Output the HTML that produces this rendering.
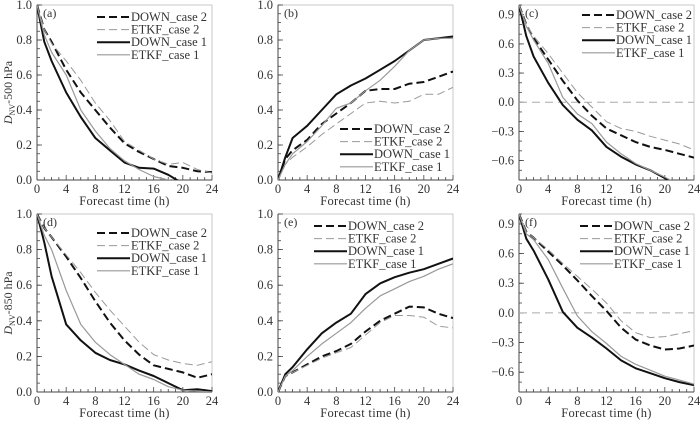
<!DOCTYPE html>
<html><head><meta charset="utf-8"><style>
body{margin:0;background:#fff;}
svg, svg text{font-family:"Liberation Serif","Times New Roman",serif;}
</style></head><body>
<svg id="fig" width="700" height="422" viewBox="0 0 700 422" font-family="Liberation Serif, serif"></svg>
<script>
const hours=[0,1,2,4,6,8,10,12,14,16,18,20,22,24];
const seriesNames=["DOWN_case 2","ETKF_case 2","DOWN_case 1","ETKF_case 1"];
const aDown2=[1,0.86,0.79,0.63,0.50,0.40,0.30,0.21,0.16,0.12,0.08,0.07,0.05,0.045];
const aEtkf2=[1,0.86,0.78,0.68,0.57,0.44,0.34,0.22,0.17,0.12,0.09,0.10,0.06,0.04];
const aDown1=[1,0.79,0.68,0.50,0.36,0.24,0.17,0.10,0.07,0.065,0.03,-0.02,-0.05,-0.08];
const aEtkf1=[1,0.83,0.73,0.60,0.40,0.28,0.18,0.11,0.06,0.02,0.0,-0.02,-0.05,-0.08];
const bDown2=[0,0.12,0.17,0.23,0.32,0.38,0.44,0.51,0.52,0.52,0.55,0.56,0.59,0.62];
const bEtkf2=[0,0.09,0.13,0.19,0.26,0.32,0.38,0.44,0.45,0.44,0.45,0.49,0.49,0.53];
const bDown1=[0,0.13,0.24,0.31,0.40,0.49,0.54,0.58,0.63,0.68,0.74,0.80,0.81,0.82];
const bEtkf1=[0,0.09,0.15,0.22,0.31,0.41,0.44,0.51,0.57,0.65,0.74,0.80,0.81,0.81];
const cDown2=[1,0.80,0.66,0.44,0.22,0.02,-0.14,-0.27,-0.34,-0.41,-0.46,-0.49,-0.53,-0.57];
const cEtkf2=[1,0.80,0.68,0.50,0.30,0.10,-0.05,-0.20,-0.27,-0.30,-0.35,-0.39,-0.43,-0.49];
const cDown1=[1,0.68,0.47,0.20,-0.03,-0.18,-0.29,-0.46,-0.56,-0.64,-0.70,-0.78,-0.85,-0.9];
const cEtkf1=[1,0.78,0.64,0.40,0.05,-0.12,-0.22,-0.41,-0.53,-0.63,-0.70,-0.77,-0.85,-0.9];
const dDown2=[1,0.92,0.87,0.76,0.64,0.51,0.39,0.29,0.21,0.15,0.13,0.11,0.08,0.10];
const dEtkf2=[1,0.92,0.87,0.77,0.67,0.56,0.46,0.37,0.28,0.21,0.18,0.16,0.15,0.17];
const dDown1=[1,0.84,0.65,0.38,0.29,0.22,0.18,0.155,0.12,0.09,0.05,0.01,0.015,0.005];
const dEtkf1=[1,0.88,0.80,0.57,0.38,0.28,0.21,0.155,0.10,0.07,0.03,0.01,0.005,0.0];
const eDown2=[0,0.09,0.11,0.155,0.20,0.23,0.27,0.34,0.40,0.44,0.48,0.475,0.44,0.415];
const eEtkf2=[0,0.09,0.11,0.15,0.19,0.22,0.25,0.32,0.39,0.43,0.43,0.42,0.37,0.36];
const eDown1=[0,0.10,0.14,0.24,0.33,0.39,0.44,0.55,0.61,0.645,0.67,0.69,0.72,0.75];
const eEtkf1=[0,0.09,0.12,0.20,0.27,0.33,0.39,0.47,0.54,0.58,0.62,0.65,0.69,0.72];
const fDown2=[1,0.82,0.76,0.62,0.48,0.33,0.17,0.02,-0.15,-0.27,-0.33,-0.37,-0.36,-0.33];
const fEtkf2=[1,0.82,0.76,0.64,0.50,0.37,0.24,0.10,-0.08,-0.20,-0.25,-0.24,-0.21,-0.18];
const fDown1=[1,0.75,0.63,0.34,0.01,-0.15,-0.25,-0.36,-0.48,-0.56,-0.61,-0.66,-0.70,-0.73];
const fEtkf1=[1,0.80,0.74,0.54,0.25,-0.03,-0.19,-0.31,-0.44,-0.52,-0.58,-0.64,-0.68,-0.72];
const posTicks=[0,0.2,0.4,0.6,0.8,1.0];
const posTickLabels=["0.0","0.2","0.4","0.6","0.8","1.0"];
const symTicks=[-0.6,-0.3,0,0.3,0.6,0.9];
const symTickLabels=["\u22120.6","\u22120.3","0.0","0.3","0.6","0.9"];
const xTicks=[0,4,8,12,16,20,24];
const xTickLabels=["0","4","8","12","16","20","24"];

const NS="http://www.w3.org/2000/svg";
const FONT="Liberation Serif, serif";
const svg=document.getElementById('fig');
function mk(tag,attrs,parent){const e=document.createElementNS(NS,tag);for(const k in attrs)e.setAttribute(k,attrs[k]);if(tag==='text')e.setAttribute('font-family',FONT);(parent||svg).appendChild(e);return e;}
const styles=[{stroke:"#111",w:2,dash:"8,4"},{stroke:"#999",w:1,dash:"8,4"},{stroke:"#111",w:2,dash:""},{stroke:"#999",w:1.2,dash:""}];

const panels=[
 {id:"a",x0:37,x1:212,y0:5,y1:180,ymin:0,ymax:1,sym:false,data:[aDown2,aEtkf2,aDown1,aEtkf1],lx:97,ly:17,ylab:"500"},
 {id:"b",x0:278,x1:453,y0:5,y1:180,ymin:0,ymax:1,sym:false,data:[bDown2,bEtkf2,bDown1,bEtkf1],lx:340,ly:129},
 {id:"c",x0:519,x1:694,y0:5,y1:180,ymin:-0.8,ymax:1,sym:true,data:[cDown2,cEtkf2,cDown1,cEtkf1],lx:582,ly:15},
 {id:"d",x0:37,x1:212,y0:214,y1:392,ymin:0,ymax:1,sym:false,data:[dDown2,dEtkf2,dDown1,dEtkf1],lx:97,ly:233,ylab:"850"},
 {id:"e",x0:278,x1:453,y0:214,y1:392,ymin:0,ymax:1,sym:false,data:[eDown2,eEtkf2,eDown1,eEtkf1],lx:314,ly:226},
 {id:"f",x0:519,x1:694,y0:214,y1:392,ymin:-0.8,ymax:1,sym:true,data:[fDown2,fEtkf2,fDown1,fEtkf1],lx:580,ly:226}
];

panels.forEach(p=>{
  const g=mk('g',{});
  
  
  const X=h=>p.x0+(h/24)*(p.x1-p.x0);
  const Y=v=>p.y1-(v-p.ymin)/(p.ymax-p.ymin)*(p.y1-p.y0);
  const cp=mk('clipPath',{id:'clip-'+p.id},g);
  mk('rect',{x:p.x0,y:p.y0-1,width:p.x1-p.x0,height:p.y1-p.y0+1},cp);
  const frame=mk('rect',{x:p.x0,y:p.y0,width:p.x1-p.x0,height:p.y1-p.y0,fill:"none",stroke:"#bbb","stroke-width":0.8},g);
  
  
  mk('line',{x1:p.x0,y1:p.y0,x2:p.x0,y2:p.y1,stroke:"#444","stroke-width":1},g);
  mk('line',{x1:p.x0,y1:p.y1,x2:p.x1,y2:p.y1,stroke:"#444","stroke-width":1},g);
  for(let h=0;h<=24;h++){const maj=h%4===0;mk('line',{x1:X(h),y1:p.y1,x2:X(h),y2:p.y1-(maj?5:3),stroke:"#444","stroke-width":0.8},g);}
  xTicks.forEach((t,i)=>{const tx=mk('text',{x:X(t),y:p.y1+13,"font-size":12.5,"text-anchor":"middle",fill:"#333"},g);tx.textContent=xTickLabels[i];
    
    });
  const xt=mk('text',{x:(p.x0+p.x1)/2,y:p.y1+25,"font-size":12.5,"text-anchor":"middle",fill:"#333","letter-spacing":"0.3"},g);
  xt.textContent="Forecast time (h)";
  
  
  const ticks=p.sym?symTicks:posTicks, labs=p.sym?symTickLabels:posTickLabels;
  const minor=p.sym?0.1:0.05;
  for(let v=p.ymin;v<=p.ymax+1e-6;v+=minor){mk('line',{x1:p.x0,y1:Y(v),x2:p.x0+3,y2:Y(v),stroke:"#444","stroke-width":0.8},g);}
  ticks.forEach((t,i)=>{mk('line',{x1:p.x0,y1:Y(t),x2:p.x0+5,y2:Y(t),stroke:"#444","stroke-width":0.8},g);
    const tx=mk('text',{x:p.x0-5,y:Y(t)+4,"font-size":12.5,"text-anchor":"end",fill:"#333"},g);tx.textContent=labs[i];
    
    });
  if(p.sym){const z=mk('line',{x1:p.x0,y1:Y(0),x2:p.x1,y2:Y(0),stroke:"#aaa","stroke-width":1,"stroke-dasharray":"8,5"},g);
    
    }
  if(p.ylab){const yt=mk('text',{x:0,y:0,"font-size":12,"text-anchor":"middle",fill:"#333",transform:`translate(12,${(p.y0+p.y1)/2}) rotate(-90)`},g);
    yt.innerHTML='<tspan font-style="italic">D</tspan><tspan font-size="8" dy="3">NV</tspan><tspan dy="-3">-'+p.ylab+' hPa</tspan>';
    
    }
  const pl=mk('text',{x:p.x0+6,y:p.y0+12,"font-size":12,fill:"#333"},g);
  pl.textContent="("+p.id+")";
  
  
  p.data.forEach((vals,si)=>{
    const s=styles[si];
    const d=vals.map((v,i)=>(i?'L':'M')+X(hours[i]).toFixed(1)+','+Y(v).toFixed(1)).join(' ');
    const path=mk('path',{d:d,fill:"none",stroke:s.stroke,"stroke-width":s.w,"stroke-dasharray":s.dash,"clip-path":`url(#clip-${p.id})`,"stroke-linejoin":"round"},g);
    
    
  });
  seriesNames.forEach((n,si)=>{
    const s=styles[si], ly=p.ly+si*12.6;
    const le=mk('g',{},g);
    
    
    mk('line',{x1:p.lx,y1:ly,x2:p.lx+33,y2:ly,stroke:s.stroke,"stroke-width":s.w,"stroke-dasharray":s.dash},le);
    const t=mk('text',{x:p.lx+34,y:ly+4,"font-size":12.5,fill:"#333"},le);t.textContent=n;
  });
});
</script>
</body></html>
